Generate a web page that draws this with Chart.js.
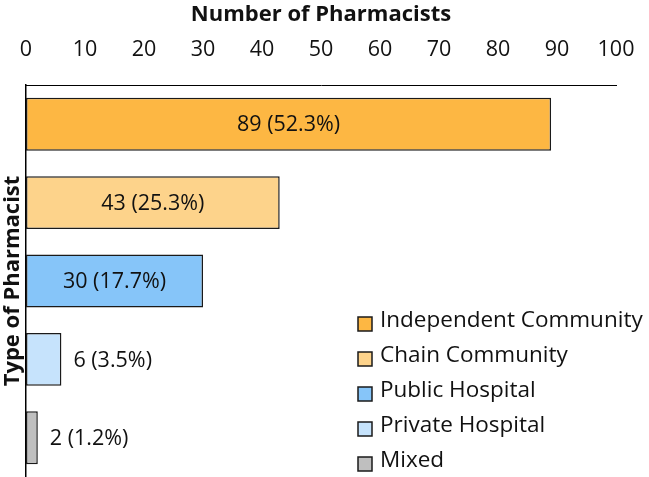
<!DOCTYPE html>
<html>
<head>
<meta charset="utf-8">
<script src="https://cdn.jsdelivr.net/npm/chart.js@4/dist/chart.umd.min.js"></script>
<style>
    html, body { margin: 0; padding: 0; background: #fff; }
    #wrap { width: 649px; height: 477px; position: relative; }
</style>
</head>
<body>
<div id="wrap"><canvas id="myChart"></canvas></div>
<script>
const categories = ['Independent Community', 'Chain Community', 'Public Hospital', 'Private Hospital', 'Mixed'];
const pharmacists = [89, 43, 30, 6, 2];
const percents = [52.3, 25.3, 17.7, 3.5, 1.2];
const xTicks = [0, 10, 20, 30, 40, 50, 60, 70, 80, 90, 100];
const barColors = ['#FDB743', '#FDD38B', '#86C5F9', '#C6E3FC', '#BFBFBF'];

const FONT = "'Open Sans', 'Noto Sans', sans-serif";

document.addEventListener('DOMContentLoaded', () => {
    const ctx = document.getElementById('myChart').getContext('2d');

    // value labels: inside the bar when it is wide enough, otherwise just after it
    const barLabels = {
        id: 'barLabels',
        afterDatasetsDraw(chart) {
            const c = chart.ctx;
            const meta = chart.getDatasetMeta(0);
            c.save();
            c.font = '21.5px ' + FONT;
            c.fillStyle = '#111';
            c.textBaseline = 'middle';
            meta.data.forEach((bar, i) => {
                const text = pharmacists[i] + ' (' + percents[i].toFixed(1) + '%)';
                const w = c.measureText(text).width;
                const { x, y, base } = bar.getProps(['x', 'y', 'base'], true);
                if (x - base > w + 20) {
                    c.textAlign = 'center';
                    c.fillText(text, (x + base) / 2, y + 1);
                } else {
                    c.textAlign = 'left';
                    c.fillText(text, x + 12, y + 1);
                }
            });
            c.restore();
        }
    };

    // legend sits inside the plot, lower right
    const boxLegend = {
        id: 'boxLegend',
        afterDraw(chart) {
            const c = chart.ctx;
            const ds = chart.data.datasets[0];
            c.save();
            c.font = '22.5px ' + FONT;
            c.textBaseline = 'middle';
            c.textAlign = 'left';
            chart.data.labels.forEach((label, i) => {
                const y = 324 + i * 35;
                c.fillStyle = ds.backgroundColor[i];
                c.fillRect(358, y - 7, 14, 14);
                c.strokeStyle = '#1a1a1a';
                c.lineWidth = 1.5;
                c.strokeRect(358, y - 7, 14, 14);
                c.fillStyle = '#111';
                c.fillText(label, 380, y - 3);
            });
            c.restore();
        }
    };

    const data = {
        labels: categories,
        datasets: [
            {
                label: 'Number of Pharmacists',
                data: pharmacists,
                backgroundColor: barColors,
                borderColor: '#1a1a1a',
                borderWidth: 1.5,
                borderSkipped: false,
                barPercentage: 0.9,
                categoryPercentage: 0.75
            }
        ]
    };

    const options = {
        indexAxis: 'y',
        responsive: true,
        maintainAspectRatio: false,
        animation: false,
        layout: {
            padding: { left: 0, right: 33, top: 0, bottom: 0 }
        },
        plugins: {
            legend: { display: false },
            tooltip: { enabled: false }
        },
        scales: {
            x: {
                position: 'top',
                min: 0,
                max: 100,
                afterBuildTicks: (axis) => {
                    axis.ticks = xTicks.map(v => ({ value: v }));
                },
                afterFit: (axis) => {
                    axis.height = 85;
                    // labels may hang over the plot edges, like the original
                    axis.paddingLeft = 0;
                    axis.paddingRight = 0;
                },
                grid: { display: false, drawTicks: false },
                border: { display: true, color: '#000', width: 1 },
                ticks: {
                    padding: 22,
                    color: '#111',
                    font: { family: FONT, size: 21.5 },
                    maxRotation: 0
                },
                title: {
                    display: true,
                    text: 'Number of Pharmacists',
                    color: '#111',
                    font: { family: FONT, size: 22, weight: 'bold' },
                    padding: { top: 2, bottom: 0 }
                }
            },
            y: {
                afterFit: (axis) => { axis.width = 26; },
                grid: { display: false, drawTicks: false },
                border: { display: true, color: '#000', width: 1.5 },
                ticks: { display: false },
                title: {
                    display: true,
                    text: 'Type of Pharmacist',
                    color: '#111',
                    font: { family: FONT, size: 22, weight: 'bold' },
                    padding: 0
                }
            }
        }
    };

    // Create the chart
    new Chart(ctx, {
        type: 'bar',
        data: data,
        options: options,
        plugins: [barLabels, boxLegend]
    });
});
</script>
</body>
</html>
